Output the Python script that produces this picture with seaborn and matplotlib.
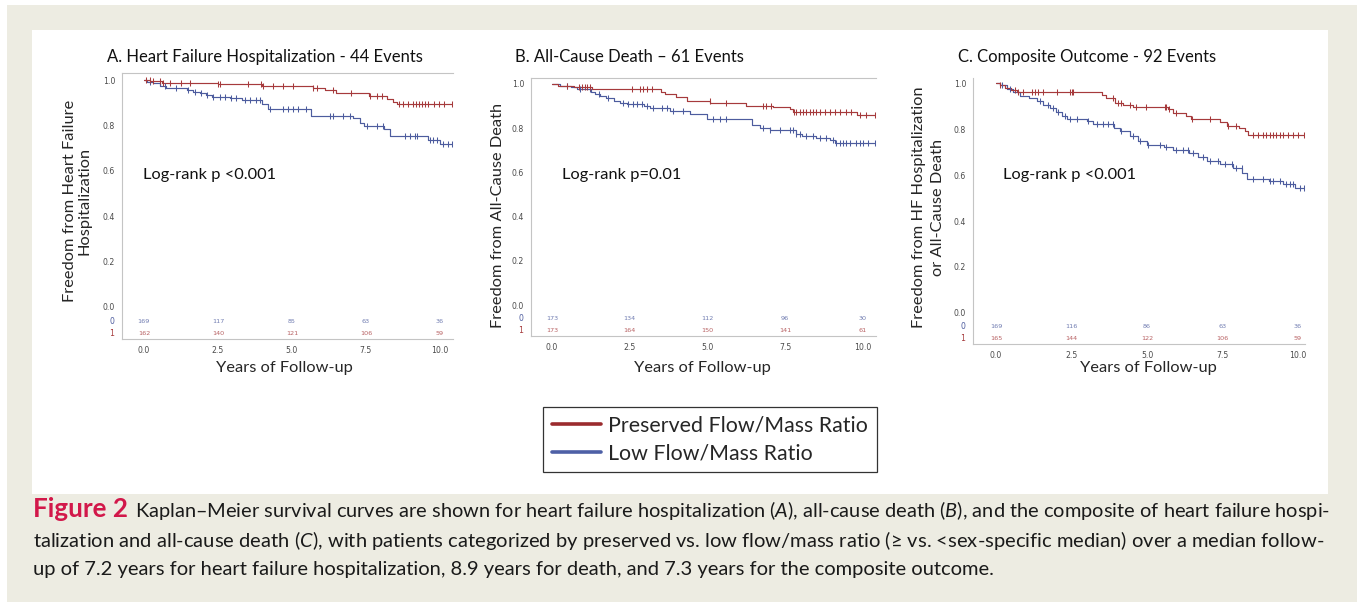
import numpy as np
import pandas as pd
import matplotlib
matplotlib.use("Agg")
import matplotlib.pyplot as plt
import seaborn as sns
from matplotlib.patches import Rectangle
from matplotlib.lines import Line2D
from matplotlib.ticker import FormatStrFormatter

sns.set_style("white")
plt.rcParams['font.family'] = ['Lato', 'DejaVu Sans']
plt.rcParams['mathtext.fontset'] = 'custom'
plt.rcParams['mathtext.rm'] = 'Lato'
plt.rcParams['mathtext.it'] = 'Lato:italic'

# ---- data ----
YEAR_TICKS = [0, 2.5, 5, 7.5, 10]
Y_TICKS = [0.0, 0.2, 0.4, 0.6, 0.8, 1.0]

# Panel A - heart failure hospitalization
a_pres_t = [0, 0.2, 0.6, 2.5, 4.0, 5.7, 6.1, 6.5, 7.6, 8.2, 8.4, 8.55]
a_pres_s = [1.0, 0.994, 0.988, 0.981, 0.975, 0.965, 0.956, 0.944, 0.930, 0.918, 0.905, 0.893]
a_pres_c = [0.08, 0.19, 0.3, 0.53, 0.64, 0.87, 1.26, 1.54, 2.5, 2.56, 3.52, 3.97, 4.02, 4.36,
            4.7, 5.04, 5.72, 5.83, 6.39, 7.01, 7.63, 7.86, 8.03, 8.6, 8.76, 8.93, 9.1, 9.2,
            9.3, 9.4, 9.5, 9.6, 9.8, 9.96, 10.13, 10.4]
a_low_t = [0, 0.1, 0.3, 0.55, 0.75, 1.45, 1.65, 1.9, 2.1, 2.3, 2.9, 3.3, 4.0, 4.2, 5.65,
           7.05, 7.3, 7.45, 8.1, 8.3, 9.6, 10.0]
a_low_s = [1.0, 0.993, 0.985, 0.975, 0.965, 0.957, 0.949, 0.941, 0.935, 0.926, 0.92, 0.913,
           0.895, 0.873, 0.842, 0.832, 0.812, 0.797, 0.785, 0.755, 0.737, 0.718]
a_low_c = [0.19, 0.53, 0.7, 1.1, 1.49, 1.71, 1.94, 2.12, 2.33, 2.56, 2.73, 2.95, 3.12, 3.4,
           3.58, 3.8, 3.91, 4.25, 4.7, 4.87, 5.04, 5.21, 5.49, 6.28, 6.39, 6.73, 6.96, 7.52,
           7.86, 8.08, 8.82, 8.99, 9.16, 9.21, 9.67, 9.78, 9.89, 10.11, 10.28, 10.4]
a_risk_low = [169, 117, 85, 63, 36]
a_risk_pres = [162, 140, 121, 106, 59]

# Panel B - all-cause death
b_pres_t = [0, 0.2, 0.7, 1.3, 3.5, 3.65, 4.0, 4.35, 5.1, 6.25, 7.1, 7.65, 7.75, 9.8]
b_pres_s = [1.0, 0.993, 0.985, 0.975, 0.965, 0.955, 0.94, 0.925, 0.915, 0.9, 0.895, 0.885,
            0.875, 0.858]
b_pres_c = [0.48, 0.86, 0.96, 1.07, 1.12, 1.23, 2.57, 2.83, 2.94, 3.05, 3.21, 5.08, 5.61,
            6.79, 6.9, 7.06, 7.8, 7.86, 7.97, 8.07, 8.18, 8.29, 8.4, 8.5, 8.61, 8.77, 8.93,
            9.09, 9.25, 9.47, 9.63, 9.89, 10.11, 10.4]
b_low_t = [0, 0.25, 0.6, 0.8, 1.25, 1.4, 1.55, 1.75, 2.0, 2.2, 2.4, 2.95, 3.15, 3.8, 4.45,
           5.0, 6.45, 6.7, 7.0, 7.85, 8.05, 8.5, 8.95, 9.1]
b_low_s = [1.0, 0.99, 0.985, 0.975, 0.965, 0.955, 0.945, 0.935, 0.925, 0.915, 0.908, 0.9,
           0.89, 0.878, 0.865, 0.84, 0.815, 0.8, 0.79, 0.775, 0.765, 0.755, 0.745, 0.735]
b_low_c = [0.48, 0.91, 1.23, 1.5, 1.82, 2.3, 2.46, 2.62, 2.73, 2.89, 3.05, 3.26, 3.53, 3.69,
           3.9, 4.22, 5.19, 5.4, 5.61, 6.79, 7.01, 7.33, 7.65, 7.75, 7.86, 7.97, 8.18, 8.4,
           8.61, 8.82, 9.04, 9.14, 9.25, 9.36, 9.47, 9.57, 9.79, 9.89, 10.0, 10.16, 10.4]
b_risk_low = [173, 134, 112, 96, 30]
b_risk_pres = [173, 164, 150, 141, 61]

# Panel C - composite outcome
c_pres_t = [0, 0.13, 0.3, 0.5, 0.7, 3.5, 3.65, 3.95, 4.2, 4.55, 5.7, 5.85, 6.3, 6.45, 7.4,
            7.65, 8.05, 8.25, 8.35]
c_pres_s = [1.0, 0.99, 0.98, 0.97, 0.963, 0.95, 0.935, 0.915, 0.905, 0.895, 0.885, 0.87,
            0.855, 0.845, 0.83, 0.815, 0.805, 0.79, 0.772]
c_pres_c = [0.13, 0.63, 0.74, 0.9, 1.18, 1.29, 1.4, 1.57, 2.01, 2.45, 2.51, 2.56, 3.88, 4.04,
            4.15, 4.43, 4.65, 4.98, 5.59, 5.64, 5.72, 5.97, 6.5, 7.08, 7.69, 7.96, 8.51, 8.67,
            8.84, 8.95, 9.06, 9.17, 9.28, 9.39, 9.5, 9.66, 9.83, 10.0, 10.2]
c_low_t = [0, 0.13, 0.35, 0.57, 0.8, 1.1, 1.35, 1.55, 1.8, 2.0, 2.2, 2.35, 3.0, 3.2, 3.9,
           4.1, 4.45, 4.7, 5.0, 5.55, 5.85, 6.4, 6.7, 7.0, 7.4, 7.85, 8.15, 8.3, 9.05, 9.5, 9.9]
c_low_s = [1.0, 0.99, 0.975, 0.96, 0.945, 0.935, 0.92, 0.905, 0.89, 0.875, 0.857, 0.845,
           0.835, 0.82, 0.805, 0.79, 0.77, 0.748, 0.73, 0.72, 0.708, 0.695, 0.677, 0.662,
           0.647, 0.632, 0.607, 0.582, 0.572, 0.563, 0.545]
c_low_c = [0.19, 0.46, 1.46, 1.73, 1.89, 2.05, 2.27, 2.45, 2.67, 3.05, 3.33, 3.55, 3.71, 3.88,
           4.15, 4.54, 4.76, 5.04, 5.42, 5.64, 5.97, 6.2, 6.36, 6.53, 6.86, 7.08, 7.35, 7.57,
           7.8, 7.96, 8.13, 8.51, 8.84, 9.06, 9.17, 9.39, 9.61, 9.72, 9.83, 10.05, 10.2]
c_risk_low = [169, 116, 86, 63, 36]
c_risk_pres = [165, 144, 122, 106, 59]

TITLES = ["A. Heart Failure Hospitalization - 44 Events",
          "B. All-Cause Death \u2013 61 Events",
          "C. Composite Outcome - 92 Events"]
YLABELS = ["Freedom from Heart Failure\nHospitalization",
           "Freedom from All-Cause Death",
           "Freedom from HF Hospitalization\nor All-Cause Death"]
PVALUES = ["Log-rank p <0.001", "Log-rank p=0.01", "Log-rank p <0.001"]
XLABEL = "Years of Follow-up"
LEGEND_LABELS = ["Preserved Flow/Mass Ratio", "Low Flow/Mass Ratio"]

CAP_HEAD = "Figure 2"
CAP_LINE1 = ("Kaplan\u2013Meier survival curves are shown for heart failure hospitalization ($A$), "
             "all-cause death ($B$), and the composite of heart failure hospi-")
CAP_LINE2 = ("talization and all-cause death ($C$), with patients categorized by preserved vs. "
             "low flow/mass ratio (\u2265 vs. <sex-specific median) over a median follow-")
CAP_LINE3 = ("up of 7.2 years for heart failure hospitalization, 8.9 years for death, "
             "and 7.3 years for the composite outcome.")

# ---- layout (pixels in a 1357x604 image) ----
W, H = 1357, 604
RED, BLUE = "#a63a3c", "#4d5c9e"
RED_LEG, BLUE_LEG = "#9b2b2e", "#4e60a6"
BEIGE = "#edece2"
CAP_COLOR = "#1a1a1a"
FS = 11.8


def fx(px):
    return px / W


def fy(py):
    return 1 - py / H


def step_at(times, surv, when):
    idx = np.searchsorted(np.asarray(times), np.asarray(when), side='right') - 1
    return np.asarray(surv)[idx]


panels = [
    dict(box=(122, 73, 453, 339), xlim=(-0.74, 10.44), ylim=(-0.141, 1.031), top=True,
         pres=(a_pres_t, a_pres_s, a_pres_c), low=(a_low_t, a_low_s, a_low_c),
         risk=(a_risk_low, a_risk_pres), risk_y=(-0.066, -0.115),
         title_xy=(107, 57), p_xy=(143, 175), ylab=(-0.136, 0.519, 1.05), xlab=(0.492, -0.109)),
    dict(box=(531, 78, 876, 336), xlim=(-0.67, 10.42), ylim=(-0.14, 1.027), top=True,
         pres=(b_pres_t, b_pres_s, b_pres_c), low=(b_low_t, b_low_s, b_low_c),
         risk=(b_risk_low, b_risk_pres), risk_y=(-0.063, -0.113),
         title_xy=(515, 57), p_xy=(562, 175), ylab=(-0.096, 0.469, 1.1), xlab=(0.496, -0.124)),
    dict(box=(973, 78, 1305, 344), xlim=(-0.76, 10.23), ylim=(-0.135, 1.022), top=False,
         pres=(c_pres_t, c_pres_s, c_pres_c), low=(c_low_t, c_low_s, c_low_c),
         risk=(c_risk_low, c_risk_pres), risk_y=(-0.061, -0.113),
         title_xy=(958, 57), p_xy=(1003, 175), ylab=(-0.134, 0.515, 1.4), xlab=(0.527, -0.090)),
]

fig = plt.figure(figsize=(W / 100, H / 100), dpi=100)
fig.patch.set_facecolor("white")
fig.patches.append(Rectangle((fx(7), fy(602)), (W - 7) / W, (602 - 5) / H,
                             transform=fig.transFigure, facecolor=BEIGE, edgecolor='none', zorder=-3))
fig.patches.append(Rectangle((fx(32), fy(494)), (1328 - 32) / W, (494 - 30) / H,
                             transform=fig.transFigure, facecolor='white', edgecolor='none', zorder=-2))

for i, p in enumerate(panels):
    l, t, r, b = p['box']
    ax = fig.add_axes([fx(l), fy(b), (r - l) / W, (b - t) / H])
    ax.set_facecolor('none')

    for (times, surv, cens), color in [(p['low'], BLUE), (p['pres'], RED)]:
        end = max(cens)
        df = pd.DataFrame({'t': list(times) + [end], 's': list(surv) + [surv[-1]]})
        sns.lineplot(data=df, x='t', y='s', ax=ax, color=color, drawstyle='steps-post',
                     estimator=None, sort=False, linewidth=0.85)
        cdf = pd.DataFrame({'t': cens, 's': step_at(times, surv, cens)})
        sns.scatterplot(data=cdf, x='t', y='s', ax=ax, marker='|', color=color,
                        s=20, linewidth=0.75, zorder=3)

    ax.set_xlim(*p['xlim'])
    ax.set_ylim(*p['ylim'])
    ax.set_xticks(YEAR_TICKS)
    ax.set_yticks(Y_TICKS)
    ax.xaxis.set_major_formatter(FormatStrFormatter('%.1f'))
    ax.yaxis.set_major_formatter(FormatStrFormatter('%.1f'))
    ax.tick_params(axis='both', which='major', labelsize=5.6, labelcolor='#4a4a4a',
                   color='#999999', length=3, width=0.6, pad=2)
    for lab in ax.get_xticklabels() + ax.get_yticklabels():
        lab.set_family('DejaVu Sans')
    for side in ['left', 'bottom', 'top']:
        ax.spines[side].set_color('#c4c4c4')
        ax.spines[side].set_linewidth(0.8)
    ax.spines['right'].set_visible(False)
    ax.spines['top'].set_visible(p['top'])

    # number at risk rows
    for row, (vals, color, ry) in enumerate(zip(p['risk'], [BLUE, RED], p['risk_y'])):
        for xv, n in zip(YEAR_TICKS, vals):
            ax.text(xv, ry, str(n), ha='center', va='center', fontsize=4.6,
                    color=color, family='DejaVu Sans', alpha=0.8)
        ax.annotate(str(row), xy=(0, ry), xycoords=('axes fraction', 'data'),
                    xytext=(-7.5, 0), textcoords='offset points', ha='center', va='center',
                    fontsize=5.6, color=color, family='DejaVu Sans')

    yx, yy, lsp = p['ylab']
    ax.set_ylabel(YLABELS[i], fontsize=FS, va='center', ha='center', linespacing=lsp)
    ax.yaxis.set_label_coords(yx, yy)
    ax.set_xlabel(XLABEL, fontsize=FS, va='center')
    ax.xaxis.set_label_coords(*p['xlab'])

    fig.text(fx(p['title_xy'][0]), fy(p['title_xy'][1]), TITLES[i], fontsize=12,
             ha='left', va='center', color='#111111')
    fig.text(fx(p['p_xy'][0]), fy(p['p_xy'][1]), PVALUES[i], fontsize=FS,
             ha='left', va='center', color='#111111')

# legend box
handles = [Line2D([], [], color=RED_LEG, lw=2.6), Line2D([], [], color=BLUE_LEG, lw=2.6)]
leg = fig.legend(handles, LEGEND_LABELS, loc='upper left', bbox_to_anchor=(fx(543), fy(407)),
                 frameon=True, fancybox=False, edgecolor='#333333', framealpha=1,
                 fontsize=15.4, handlelength=2.3, handletextpad=0.35, borderpad=0.4,
                 labelspacing=0.35, borderaxespad=0)
leg.get_frame().set_linewidth(0.9)

# caption, first two lines fitted to the text block width
renderer = fig.canvas.get_renderer()
head = fig.text(fx(33), fy(517), CAP_HEAD, fontsize=16, weight='bold', color='#d2184a',
                va='baseline', ha='left')
for _ in range(3):
    head.set_fontsize(head.get_fontsize() * 95 / head.get_window_extent(renderer).width)
hb = head.get_window_extent(renderer)
line1 = fig.text((hb.x1 + 7) / W, fy(517), CAP_LINE1, fontsize=12.5, color=CAP_COLOR,
                 va='baseline', ha='left')
for _ in range(3):
    w1 = line1.get_window_extent(renderer).width
    line1.set_fontsize(line1.get_fontsize() * (1330 - hb.x1 - 7) / w1)

line2 = fig.text(fx(33), fy(547), CAP_LINE2, fontsize=12.5, color=CAP_COLOR,
                 va='baseline', ha='left')
for _ in range(3):
    w2 = line2.get_window_extent(renderer).width
    line2.set_fontsize(line2.get_fontsize() * (1324 - 33) / w2)
fig.text(fx(33), fy(575), CAP_LINE3, fontsize=line2.get_fontsize(), color=CAP_COLOR,
         va='baseline', ha='left')

fig.savefig("out.png", dpi=100)
